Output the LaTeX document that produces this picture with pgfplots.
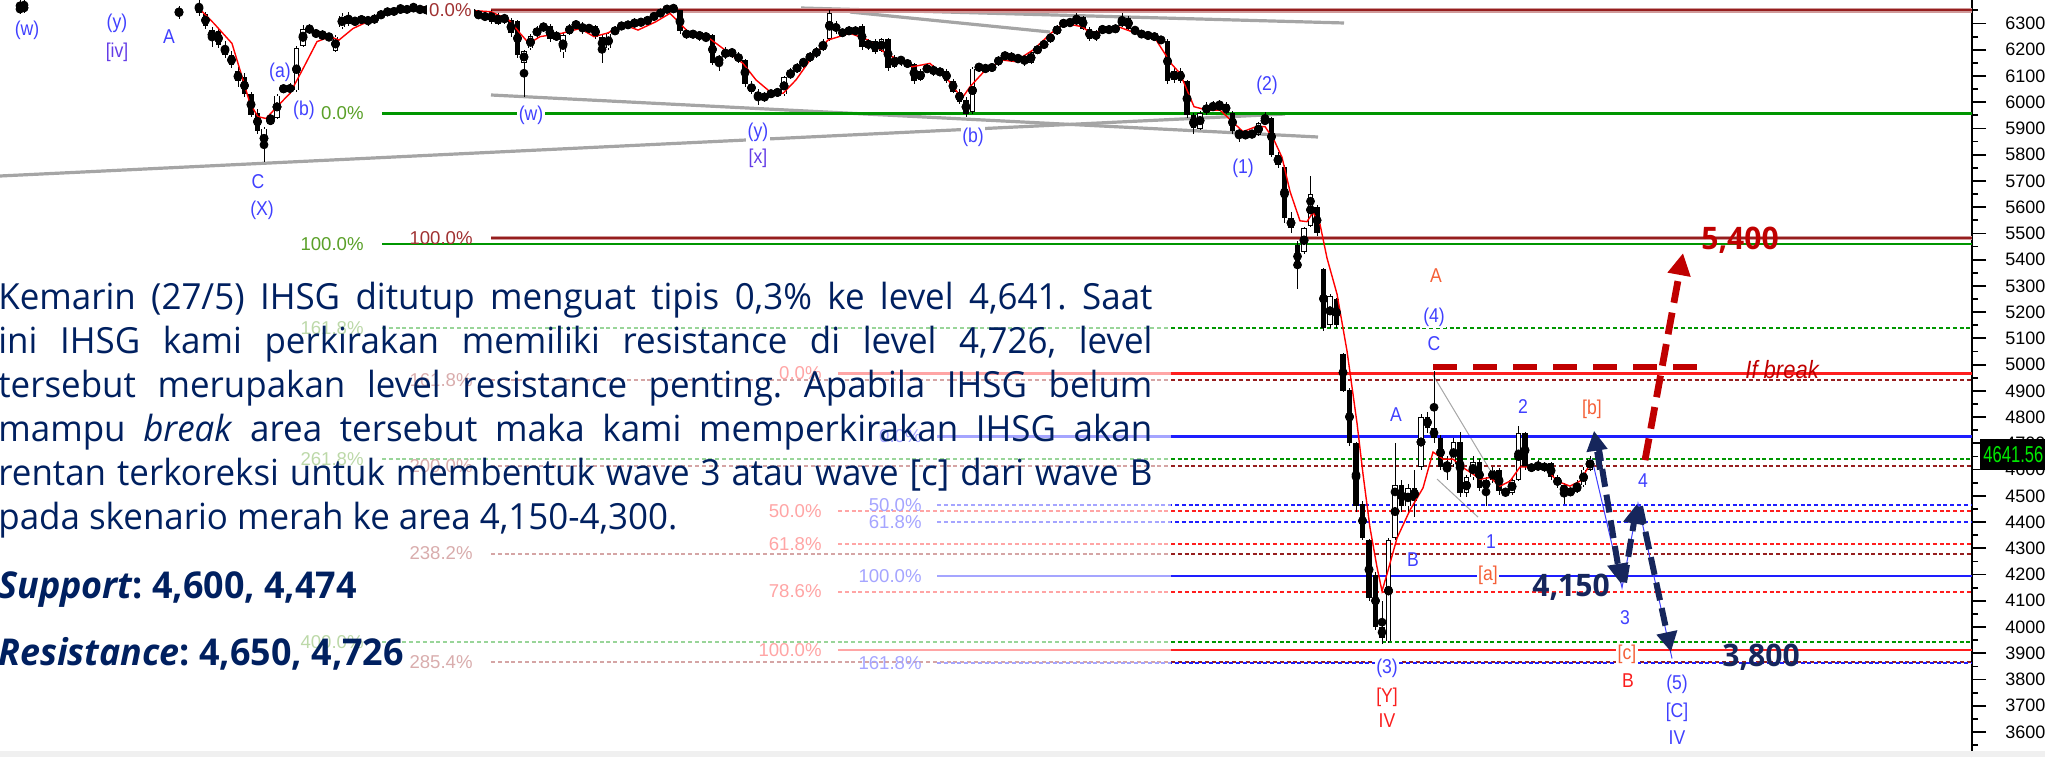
\documentclass[border=0pt]{standalone}
\usepackage{fontspec}
\setmainfont{Open Sans}[FakeStretch=0.97]
\newfontfamily\labf[FakeStretch=0.88]{Liberation Sans}
\newfontfamily\tickf{Liberation Sans}
\newfontfamily\narrowf[FakeStretch=0.72]{Liberation Sans}
\usepackage{pgfplots}
\pgfplotsset{compat=1.18}
\usepackage{pgfplotstable}
\usetikzlibrary{arrows.meta}
\definecolor{navy}{RGB}{22,38,92}
\definecolor{dred}{RGB}{192,0,0}
\definecolor{wblue}{RGB}{64,64,255}
\definecolor{wpurp}{RGB}{100,60,230}
\definecolor{wred}{RGB}{250,30,30}
\definecolor{wora}{RGB}{245,95,55}
\definecolor{fgreen}{RGB}{0,150,0}
\definecolor{fgreenl}{RGB}{90,160,40}
\definecolor{fbrown}{RGB}{150,30,30}
\definecolor{fbrownl}{RGB}{160,50,50}
\definecolor{fred}{RGB}{255,30,30}
\definecolor{fblue}{RGB}{30,30,255}
\definecolor{txt}{RGB}{0,32,96}
\definecolor{gline}{RGB}{165,165,165}
\newcommand\ptext{\fontsize{18pt}{22pt}\selectfont}
\newcommand\wfont{\labf\fontsize{10pt}{12pt}\selectfont}
\newcommand\ffont{\tickf\fontsize{9.3pt}{11pt}\selectfont}
\newcommand\at[2]{({(#1)*0.5pt},{(757-(#2))*0.5pt})}
\pgfplotstableread{
x o h l c
20 6360 6400 6335 6350
24 6352 6400 6340 6368
179 6340 6365 6318 6348
199 6375 6395 6330 6340
205.5 6335 6345 6280 6290
212 6240 6285 6212 6275
218.5 6270 6280 6205 6220
225 6215 6235 6170 6180
231.5 6180 6195 6130 6140
238 6120 6135 6060 6080
244.5 6095 6110 6020 6030
251 6030 6040 5945 5950
257.5 5960 5975 5880 5890
264 5825 5905 5771 5900
270.5 5925 5960 5915 5935
277 5940 6030 5935 6025
283.5 6040 6070 6035 6062
290 6065 6075 6030 6040
296.5 6045 6215 6040 6205
303 6215 6295 6210 6280
309.5 6285 6300 6260 6270
316 6268 6280 6245 6255
322.5 6258 6275 6240 6250
329 6250 6265 6235 6245
335.5 6195 6255 6190 6250
342 6285 6340 6280 6330
348.5 6330 6345 6290 6300
355 6300 6325 6295 6315
361.5 6310 6330 6300 6320
368 6325 6330 6290 6300
374.5 6305 6335 6300 6328
381 6330 6345 6320 6338
387.5 6338 6360 6330 6350
394 6350 6358 6335 6342
400.5 6345 6375 6340 6362
407 6360 6368 6340 6348
413.5 6350 6380 6345 6368
420 6365 6370 6335 6345
426.5 6345 6365 6340 6358
433 6355 6362 6342 6350
439.5 6350 6358 6335 6345
446 6345 6365 6340 6355
452.5 6355 6360 6330 6340
459 6340 6358 6335 6350
465.5 6350 6355 6332 6345
472 6345 6352 6330 6338
478.5 6338 6345 6320 6330
485 6330 6345 6310 6322
491.5 6345 6352 6300 6305
498 6300 6340 6295 6330
504.5 6330 6335 6300 6310
511 6315 6320 6250 6262
517.5 6310 6315 6170 6180
524 6150 6200 6021 6195
530.5 6205 6260 6200 6252
537 6255 6290 6245 6282
543.5 6285 6300 6270 6290
550 6292 6300 6230 6240
556.5 6240 6270 6235 6262
563 6190 6262 6170 6255
569.5 6260 6300 6255 6292
576 6292 6310 6280 6300
582.5 6300 6305 6260 6270
589 6270 6300 6265 6292
595.5 6290 6295 6240 6250
602 6250 6255 6148 6200
608.5 6205 6268 6200 6262
615 6262 6290 6255 6282
621.5 6282 6305 6275 6300
628 6300 6310 6280 6290
634.5 6290 6320 6285 6312
641 6312 6318 6290 6300
647.5 6300 6330 6295 6322
654 6322 6340 6315 6332
660.5 6332 6355 6325 6348
667 6348 6368 6340 6362
673.5 6362 6366 6345 6355
680 6350 6352 6260 6270
686.5 6270 6280 6240 6250
693 6250 6275 6245 6268
699.5 6268 6272 6235 6242
706 6245 6262 6230 6255
712.5 6255 6260 6140 6150
719 6150 6180 6120 6172
725.5 6172 6210 6165 6200
732 6200 6205 6170 6180
738.5 6180 6190 6150 6160
745 6160 6165 6060 6070
751.5 6070 6080 6030 6040
758 6040 6050 5990 6010
764.5 6010 6040 6000 6030
771 6030 6045 6020 6035
777.5 6035 6050 6025 6040
784 6030 6100 6025 6095
790.5 6095 6130 6090 6120
797 6120 6150 6110 6140
803.5 6140 6170 6130 6165
810 6165 6190 6155 6180
816.5 6180 6210 6170 6200
823 6200 6240 6195 6230
829.5 6240 6352 6235 6340
836 6300 6310 6260 6270
842.5 6270 6280 6250 6260
849 6262 6290 6255 6282
855.5 6282 6290 6255 6262
862 6290 6300 6200 6210
868.5 6210 6240 6200 6232
875 6232 6240 6185 6192
881.5 6195 6245 6190 6240
888 6240 6245 6120 6130
894.5 6135 6180 6130 6172
901 6172 6178 6140 6150
907.5 6150 6165 6130 6145
914 6145 6150 6070 6080
920.5 6085 6125 6080 6120
927 6120 6145 6110 6135
933.5 6135 6140 6100 6110
940 6110 6130 6100 6122
946.5 6120 6125 6075 6082
953 6082 6090 6035 6040
959.5 6040 6050 5995 6002
966 6010 6020 5945 5955
972.5 5962 6135 5955 6128
979 6128 6150 6115 6140
985.5 6140 6145 6110 6120
992 6120 6150 6115 6145
998.5 6145 6175 6140 6170
1005 6170 6192 6160 6185
1011.5 6185 6190 6155 6160
1018 6160 6180 6150 6175
1024.5 6175 6178 6140 6150
1031 6150 6195 6145 6190
1037.5 6190 6215 6185 6210
1044 6210 6235 6205 6230
1050.5 6230 6265 6225 6260
1057 6260 6295 6255 6290
1063.5 6290 6318 6285 6310
1070 6310 6315 6290 6300
1076.5 6300 6340 6295 6325
1083 6325 6330 6275 6280
1089.5 6280 6285 6235 6240
1096 6240 6275 6235 6270
1102.5 6270 6290 6262 6285
1109 6285 6290 6262 6270
1115.5 6270 6295 6265 6290
1122 6290 6340 6285 6322
1128.5 6322 6328 6275 6280
1135 6280 6285 6260 6270
1141.5 6270 6275 6245 6250
1148 6250 6268 6240 6260
1154.5 6260 6265 6235 6240
1161 6240 6250 6225 6235
1167.5 6235 6240 6070 6080
1174 6085 6130 6075 6120
1180.5 6120 6130 6072 6080
1187 6080 6085 5940 5950
1193.5 5950 5960 5880 5900
1200 5900 5965 5895 5960
1206.5 5960 6000 5950 5990
1213 5990 6005 5965 5975
1219.5 5975 6010 5970 5995
1226 5995 6000 5955 5960
1232.5 5960 5965 5880 5890
1239 5890 5900 5850 5870
1245.5 5870 5895 5860 5880
1252 5880 5895 5865 5875
1258.5 5875 5925 5870 5920
1265 5920 5962 5915 5940
1271.5 5940 5945 5790 5800
1278 5800 5810 5750 5760
1284.5 5755 5760 5540 5560
1291 5560 5580 5500 5520
1297.5 5455 5470 5290 5370
1304 5430 5525 5420 5520
1310.5 5530 5720 5525 5650
1317 5600 5610 5490 5500
1323.5 5365 5370 5130 5140
1330 5150 5270 5140 5260
1336.5 5250 5255 5140 5150
1343 5040 5045 4895 4900
1349.5 4905 4910 4690 4700
1356 4700 4705 4440 4460
1362.5 4470 4480 4330 4340
1369 4330 4335 4100 4110
1375.5 4200 4210 3990 4000
1382 4000 4100 3937 3960
1388.5 3945 4340 3940 4330
1395 4340 4700 4330 4540
1401.5 4540 4560 4440 4460
1408 4460 4545 4440 4530
1414.5 4530 4600 4420 4480
1421 4610 4810 4600 4800
1427.5 4800 4820 4740 4760
1434 4760 4975 4700 4720
1440.5 4720 4730 4600 4610
1447 4610 4650 4560 4620
1453.5 4620 4720 4610 4705
1460 4705 4745 4495 4510
1466.5 4510 4580 4495 4570
1473 4570 4650 4560 4630
1479.5 4630 4640 4520 4530
1486 4530 4570 4460 4560
1492.5 4560 4610 4550 4600
1499 4600 4605 4505 4520
1505.5 4520 4530 4495 4510
1512 4510 4570 4505 4560
1518.5 4560 4765 4555 4740
1525 4740 4745 4600 4610
1531.5 4610 4625 4590 4605
1538 4605 4635 4595 4620
1544.5 4620 4630 4590 4600
1551 4625 4630 4560 4570
1557.5 4570 4580 4530 4540
1564 4540 4550 4470 4510
1570.5 4510 4530 4500 4520
1577 4520 4560 4510 4540
1583.5 4540 4610 4535 4600
1590 4600 4650 4595 4641.56
}\candles
\begin{document}
\frenchspacing
\begin{tikzpicture}
\begin{axis}[
  at={(0,0)}, anchor=south west, scale only axis,
  width=986pt, height=378.5pt,
  xmin=0, xmax=1972, ymin=3504.7, ymax=6389.6,
  axis x line=none, axis y line*=right,
  y axis line style={-, line width=1pt, black},
  ytick pos=right, yticklabel pos=right,
  ytick={3600,3700,...,6300},
  minor ytick={3550,3650,...,6350},
  tick align=outside,
  major tick length=7pt, minor tick length=3pt,
  every tick/.style={black, line width=0.9pt},
  /pgf/number format/1000 sep={},
  /pgf/number format/assume math mode=true,
  yticklabel style={font=\tickf\fontsize{9pt}{11pt}\selectfont, anchor=west, inner sep=0pt, xshift=9.5pt},
  clip=true,
]
% grey trend lines
\addplot[gline, line width=1.6pt] coordinates {(0,5718.9) (1285,5955.1)};
\addplot[gline, line width=1.6pt] coordinates {(491,6027.6) (1318,5867.5)};
\addplot[gline, line width=1.6pt] coordinates {(801,6359.1) (1344,6302.0)};
\addplot[gline, line width=1.6pt] coordinates {(850,6343.9) (1050,6267.6)};
\addplot[gline, line width=0.5pt] coordinates {(1433,4960.5) (1490,4598.4)};
\addplot[gline, line width=0.5pt] coordinates {(1437,4564) (1478,4419)};
% fib levels: green
\addplot[fgreen, line width=1.1pt] coordinates {(382,5957) (1972,5957)};
\addplot[fgreen, line width=1.1pt] coordinates {(382,5460) (1972,5460)};
\addplot[fgreen, line width=1pt, dash pattern=on 2pt off 1.4pt] coordinates {(382,5140) (1972,5140)};
\addplot[fgreen, line width=1pt, dash pattern=on 2pt off 1.4pt] coordinates {(382,4640) (1972,4640)};
\addplot[fgreen, line width=1pt, dash pattern=on 2pt off 1.4pt] coordinates {(382,3942) (1972,3942)};
% dark red
\addplot[fbrown!45, line width=2.2pt] coordinates {(491,6350) (1972,6350)};
\addplot[fbrown, line width=0.9pt] coordinates {(491,6350) (1972,6350)};
\addplot[fbrown!45, line width=2.2pt] coordinates {(491,5483) (1972,5483)};
\addplot[fbrown, line width=0.9pt] coordinates {(491,5483) (1972,5483)};
\addplot[fbrown, line width=1pt, dash pattern=on 2pt off 1.4pt] coordinates {(491,4940) (1972,4940)};
\addplot[fbrown, line width=1pt, dash pattern=on 2pt off 1.4pt] coordinates {(491,4615) (1972,4615)};
\addplot[fbrown, line width=1pt, dash pattern=on 2pt off 1.4pt] coordinates {(491,4280) (1972,4280)};
\addplot[fbrown, line width=1pt, dash pattern=on 2pt off 1.4pt] coordinates {(491,3865) (1972,3865)};
% red
\addplot[fred, line width=1.1pt] coordinates {(838,4966) (1972,4966)};
\addplot[fred, line width=1.1pt] coordinates {(838,3912) (1972,3912)};
\addplot[fred, line width=1pt, dash pattern=on 2pt off 1.4pt] coordinates {(838,4443) (1972,4443)};
\addplot[fred, line width=1pt, dash pattern=on 2pt off 1.4pt] coordinates {(838,4315) (1972,4315)};
\addplot[fred, line width=1pt, dash pattern=on 2pt off 1.4pt] coordinates {(838,4135) (1972,4135)};
% blue
\addplot[fblue, line width=1.1pt] coordinates {(937,4726) (1972,4726)};
\addplot[fblue, line width=1.1pt] coordinates {(937,4196) (1972,4196)};
\addplot[fblue, line width=1pt, dash pattern=on 2pt off 1.4pt] coordinates {(937,4465) (1972,4465)};
\addplot[fblue, line width=1pt, dash pattern=on 2pt off 1.4pt] coordinates {(937,4400) (1972,4400)};
\addplot[fblue, line width=1pt, dash pattern=on 2pt off 1.4pt] coordinates {(937,3862) (1972,3862)};
% candles: wicks
\addplot[only marks, mark=none, error bars/.cd, y dir=both, y explicit, error mark=none,
  error bar style={black, line width=0.5pt, solid}]
  table[x=x, y expr={(\thisrow{h}+\thisrow{l})/2}, y error expr={(\thisrow{h}-\thisrow{l})/2}] {\candles};
% bodies
\addplot[only marks, mark=none, error bars/.cd, y dir=both, y explicit, error mark=none,
  error bar style={black, line width=2.6pt, solid}]
  table[x=x, y expr={(\thisrow{o}+\thisrow{c})/2}, y error expr={max(abs(\thisrow{c}-\thisrow{o})/2,1.5)}] {\candles};
\addplot[only marks, mark=none, error bars/.cd, y dir=both, y explicit, error mark=none,
  error bar style={white, line width=1.6pt, solid}]
  table[x=x, y expr={\thisrow{c}>\thisrow{o} ? (\thisrow{o}+\thisrow{c})/2 : nan}, y error expr={max((\thisrow{c}-\thisrow{o})/2-3,0)}] {\candles};
% moving average
\addplot[red, line width=0.7pt] coordinates {(199,6358) (214,6300) (232,6224) (243,6085) (250,5995) (258,5945) (266,5938) (277,5983) (290,6034) (304,6135) (317,6231) (330,6250) (339,6237) (353,6281) (371,6313) (388,6339) (402,6358) (424,6364) (450,6355) (470,6350) (491,6345) (509,6313) (520,6263) (529,6224) (540,6250) (562,6263) (580,6281) (594,6250) (607,6263) (625,6294) (638,6275) (656,6307) (670,6339) (680,6300) (688,6269) (707,6250) (725,6199) (743,6148) (756,6085) (770,6040) (783,6034) (796,6085) (810,6161) (828,6237) (850,6263) (868,6237) (886,6186) (912,6135) (930,6148) (948,6085) (962,6015) (970,6059) (984,6117) (1002,6161) (1015,6155) (1033,6199) (1051,6263) (1064,6301) (1082,6288) (1091,6263) (1118,6288) (1136,6263) (1154,6250) (1171,6148) (1180,6110) (1194,5983) (1207,5970) (1220,5970) (1234,5920) (1243,5888) (1256,5907) (1265,5907) (1274,5856) (1282,5790) (1290,5660) (1300,5548) (1307,5545) (1313,5580) (1320,5535) (1327,5406) (1337,5269) (1347,5052) (1357,4777) (1363,4583) (1370,4378) (1377,4228) (1382,4137) (1387,4202) (1397,4339) (1410,4446) (1423,4530) (1433,4667) (1443,4640) (1453,4640) (1462,4610) (1473,4583) (1480,4563) (1490,4570) (1500,4537) (1510,4556) (1520,4610) (1540,4610) (1547,4600) (1557,4556) (1570,4537) (1580,4556) (1590,4620)};
% projection thin line
\addplot[wblue, line width=0.5pt] coordinates {(1592,4640) (1622,4150) (1638,4470) (1672,3880)};
% if break
\addplot[dred, line width=3pt, dash pattern=on 12pt off 8pt] coordinates {(1433,4991) (1709,4991)};
% arrows
\addplot[dred, line width=3.4pt, dash pattern=on 11pt off 5pt, -{Triangle[length=11pt,width=11pt]}] coordinates {(1645,4636) (1683,5425)};
\addplot[navy, line width=3pt, dash pattern=on 9pt off 4pt, -{Triangle[length=10pt,width=10pt]}] coordinates {(1600,4600) (1594,4748)};
\addplot[navy, line width=3pt, dash pattern=on 9pt off 4pt, -{Triangle[length=10pt,width=10pt]}] coordinates {(1598,4700) (1621,4165)};
\addplot[navy, line width=3pt, dash pattern=on 9pt off 4pt, -{Triangle[length=10pt,width=10pt]}] coordinates {(1624,4170) (1637,4470)};
\addplot[navy, line width=3pt, dash pattern=on 9pt off 4pt, -{Triangle[length=10pt,width=10pt]}] coordinates {(1640,4460) (1671,3905)};
\end{axis}
% fib labels
\begin{scope}[every node/.style={font=\ffont, inner sep=0pt, anchor=east}]
\node[text=fgreenl] at \at{364}{113.5} {0.0\%};
\node[text=fgreenl] at \at{364}{244} {100.0\%};
\node[text=fgreenl] at \at{364}{328} {161.8\%};
\node[text=fgreenl] at \at{364}{459} {261.8\%};
\node[text=fgreenl] at \at{364}{642} {400.0\%};
\node[text=fbrownl, fill=white, inner sep=1pt] at \at{474}{10.5} {0.0\%};
\node[text=fbrownl] at \at{473}{238} {100.0\%};
\node[text=fbrownl] at \at{473}{380} {161.8\%};
\node[text=fbrownl] at \at{473}{466} {200.0\%};
\node[text=fbrownl] at \at{473}{553} {238.2\%};
\node[text=fbrownl] at \at{473}{662} {285.4\%};
\node[text=fred] at \at{822}{373} {0.0\%};
\node[text=fred] at \at{822}{511} {50.0\%};
\node[text=fred] at \at{822}{544} {61.8\%};
\node[text=fred] at \at{822}{591} {78.6\%};
\node[text=fred] at \at{822}{650} {100.0\%};
\node[text=fblue] at \at{922}{436} {0.0\%};
\node[text=fblue] at \at{922}{505} {50.0\%};
\node[text=fblue] at \at{922}{522} {61.8\%};
\node[text=fblue] at \at{922}{576} {100.0\%};
\node[text=fblue] at \at{922}{663} {161.8\%};
\end{scope}
% translucent text panel
\fill[white, opacity=0.6] \at{0}{255} rectangle \at{1171}{692};
% paragraph
\begin{scope}[every node/.style={anchor=base west, inner sep=0pt, text=txt, font=\ptext}]
\node at \at{-2}{309} {\makebox[577pt][s]{Kemarin (27/5) IHSG ditutup menguat tipis 0,3\% ke level 4,641. Saat}};
\node at \at{-2}{353} {\makebox[577pt][s]{ini IHSG kami perkirakan memiliki resistance di level 4,726, level}};
\node at \at{-2}{397} {\makebox[577pt][s]{tersebut merupakan level resistance penting. Apabila IHSG belum}};
\node at \at{-2}{441} {\makebox[577pt][s]{mampu \textit{break} area tersebut maka kami memperkirakan IHSG akan}};
\node at \at{-2}{485} {\makebox[577pt][s]{rentan terkoreksi untuk membentuk wave 3 atau wave [c] dari wave B}};
\node at \at{-2}{529} {pada skenario merah ke area 4,150-4,300.};
\node[font=\fontsize{18.5pt}{22pt}\selectfont] at \at{-2}{598} {\bfseries\itshape Support\upshape: 4,600, 4,474};
\node[font=\fontsize{18.5pt}{22pt}\selectfont] at \at{-2}{665} {\bfseries\itshape Resistance\upshape: 4,650, 4,726};
\end{scope}
% wave labels
\begin{scope}[every node/.style={font=\wfont, inner sep=0.8pt, text=wblue}]
\node at \at{27}{30} {(w)};
\node at \at{117}{23} {(y)};
\node[text=wpurp] at \at{117}{52} {[iv]};
\node at \at{169}{37} {A};
\node at \at{280}{72} {(a)};
\node at \at{304}{110} {(b)};
\node at \at{258}{182} {C};
\node at \at{262}{210} {(X)};
\node[fill=white] at \at{531}{115} {(w)};
\node[fill=white] at \at{758}{132} {(y)};
\node[text=wpurp] at \at{758}{158} {[x]};
\node[fill=white] at \at{973}{137} {(b)};
\node at \at{1267}{85} {(2)};
\node at \at{1243}{168} {(1)};
\node[text=wora] at \at{1436}{276} {A};
\node[fill=white] at \at{1434}{317} {(4)};
\node at \at{1434}{344} {C};
\node at \at{1396}{415} {A};
\node at \at{1523}{407} {2};
\node[text=wora] at \at{1592}{409} {[b]};
\node[fill=white] at \at{1491}{542} {1};
\node at \at{1413}{560} {B};
\node[fill=white, text=wora] at \at{1488}{575} {[a]};
\node at \at{1625}{618} {3};
\node[fill=white] at \at{1643}{481} {4};
\node[fill=white] at \at{1387}{668} {(3)};
\node[text=wred] at \at{1387}{697} {[Y]};
\node[text=wred] at \at{1387}{721} {IV};
\node[fill=white, text=wora] at \at{1627}{654} {[c]};
\node[text=wred] at \at{1628}{681} {B};
\node at \at{1677}{684} {(5)};
\node at \at{1677}{712} {[C]};
\node at \at{1677}{738} {IV};
\end{scope}
% big numbers
\node[font=\fontsize{15.5pt}{17pt}\selectfont\bfseries, text=dred, inner sep=0pt] at \at{1740}{240} {5,400};
\node[font=\fontsize{15.5pt}{17pt}\selectfont\bfseries, text=navy, inner sep=0pt] at \at{1571}{587} {4,150};
\node[font=\fontsize{15.5pt}{17pt}\selectfont\bfseries, text=navy, inner sep=0pt] at \at{1761}{657} {3,800};
\node[font=\labf\fontsize{12.5pt}{14pt}\selectfont\itshape, text=dred, anchor=base west, inner sep=0pt] at \at{1745}{378} {If break};
% last price box
\fill[black] \at{1980}{439} rectangle \at{2047}{470};
\node[font=\narrowf\fontsize{11.5pt}{12pt}\selectfont, text={rgb,255:red,0;green,235;blue,0}, anchor=west, inner sep=0pt] at \at{1983}{455} {4641.56};
% bottom strip
\fill[black!6] \at{0}{751} rectangle \at{2045}{757};
\pgfresetboundingbox
\path (0,0) rectangle (1022.5pt,378.5pt);
\end{tikzpicture}
\end{document}
